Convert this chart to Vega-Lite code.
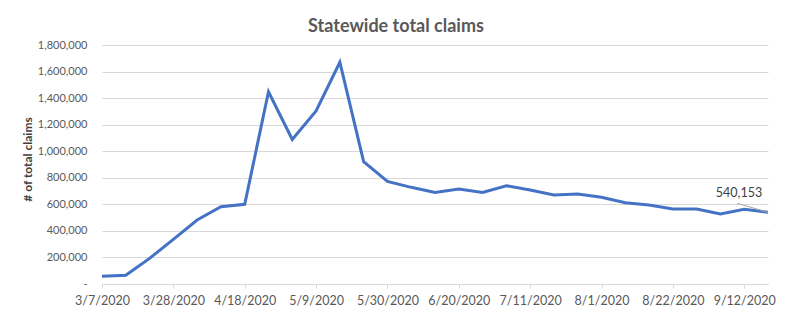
{
  "$schema": "https://vega.github.io/schema/vega-lite/v6.json",
  "width": 666,
  "height": 239,
  "autosize": {"type": "none"},
  "padding": {"left": 102, "top": 45, "right": 25, "bottom": 37},
  "background": "white",
  "title": {
    "text": "Statewide total claims",
    "font": "Lato",
    "fontSize": 18,
    "fontWeight": "bold",
    "color": "#595959",
    "anchor": "middle",
    "dx": -39,
    "offset": 3
  },
  "data": {
    "values": [
      {"date": "3/7/2020", "claims": 58000},
      {"date": "3/14/2020", "claims": 66000},
      {"date": "3/21/2020", "claims": 193000},
      {"date": "3/28/2020", "claims": 336000},
      {"date": "4/4/2020", "claims": 482000},
      {"date": "4/11/2020", "claims": 582000},
      {"date": "4/18/2020", "claims": 600000},
      {"date": "4/25/2020", "claims": 1448000},
      {"date": "5/2/2020", "claims": 1088000},
      {"date": "5/9/2020", "claims": 1303000},
      {"date": "5/16/2020", "claims": 1670000},
      {"date": "5/23/2020", "claims": 921000},
      {"date": "5/30/2020", "claims": 772000},
      {"date": "6/6/2020", "claims": 728000},
      {"date": "6/13/2020", "claims": 690000},
      {"date": "6/20/2020", "claims": 715000},
      {"date": "6/27/2020", "claims": 690000},
      {"date": "7/4/2020", "claims": 740000},
      {"date": "7/11/2020", "claims": 708000},
      {"date": "7/18/2020", "claims": 670000},
      {"date": "7/25/2020", "claims": 678000},
      {"date": "8/1/2020", "claims": 653000},
      {"date": "8/8/2020", "claims": 612000},
      {"date": "8/15/2020", "claims": 595000},
      {"date": "8/22/2020", "claims": 565000},
      {"date": "8/29/2020", "claims": 565000},
      {"date": "9/5/2020", "claims": 527000},
      {"date": "9/12/2020", "claims": 563000},
      {"date": "9/19/2020", "claims": 540153, "label": "540,153"}
    ]
  },
  "encoding": {
    "x": {
      "field": "date",
      "type": "ordinal",
      "sort": null,
      "scale": {"type": "point", "padding": 0},
      "axis": {
        "title": null,
        "values": ["3/7/2020", "3/28/2020", "4/18/2020", "5/9/2020", "5/30/2020", "6/20/2020", "7/11/2020", "8/1/2020", "8/22/2020", "9/12/2020"],
        "labelAngle": 0,
        "labelFont": "Lato",
        "labelFontSize": 12.5,
        "labelColor": "#595959",
        "labelPadding": 6,
        "tickColor": "#d9d9d9",
        "tickSize": 4,
        "domainColor": "#d9d9d9",
        "grid": false
      }
    },
    "y": {
      "field": "claims",
      "type": "quantitative",
      "scale": {"domain": [0, 1800000], "nice": false},
      "axis": {
        "title": "# of total claims",
        "titleFont": "Lato",
        "titleFontSize": 12,
        "titleFontWeight": "bold",
        "titleColor": "#404040",
        "titleX": -75,
        "titleY": 114,
        "titleBaseline": "middle",
        "values": [0, 200000, 400000, 600000, 800000, 1000000, 1200000, 1400000, 1600000, 1800000],
        "labelExpr": "datum.value == 0 ? '-' : format(datum.value, ',')",
        "labelFont": "Lato",
        "labelFontSize": 11,
        "labelColor": "#595959",
        "labelPadding": 15,
        "ticks": false,
        "domain": false,
        "gridColor": "#d9d9d9",
        "gridWidth": 1
      }
    }
  },
  "layer": [
    {
      "mark": {"type": "line", "color": "#4472C4", "strokeWidth": 3, "strokeJoin": "miter"}
    },
    {
      "transform": [{"filter": "datum.label"}],
      "mark": {"type": "point", "shape": "M0,0L-1,-0.29", "size": 3844, "filled": false, "stroke": "#a6a6a6", "strokeWidth": 1, "opacity": 1}
    },
    {
      "transform": [{"filter": "datum.label"}],
      "mark": {"type": "text", "font": "Lato", "fontSize": 12.5, "color": "#404040", "dx": -29, "dy": -19},
      "encoding": {"text": {"field": "label"}}
    }
  ],
  "config": {
    "view": {"stroke": null}
  }
}
